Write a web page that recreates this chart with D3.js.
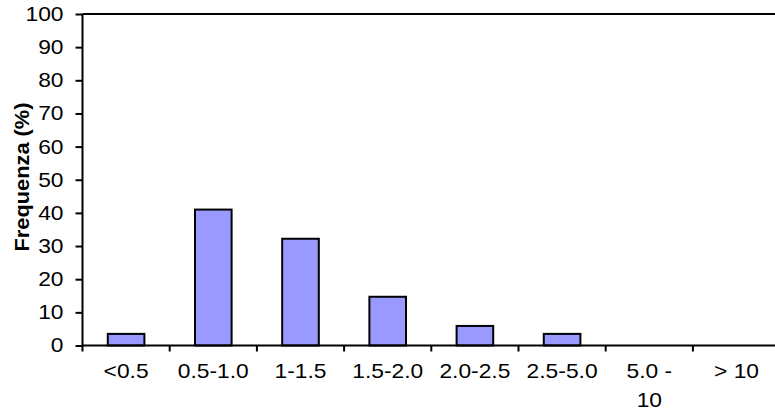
<!DOCTYPE html>
<html><head><meta charset="utf-8">
<script src="https://cdn.jsdelivr.net/npm/d3@7/dist/d3.min.js"></script>
<style>body{margin:0;background:#fff}svg{display:block}text{font-family:"Liberation Sans",Arial,sans-serif}</style>
</head><body><svg id="c" width="775" height="412"></svg>
<script>
const categories = ["<0.5","0.5-1.0","1-1.5","1.5-2.0","2.0-2.5","2.5-5.0","5.0 - 10","> 10"];
const categoryLines = [["<0.5"],["0.5-1.0"],["1-1.5"],["1.5-2.0"],["2.0-2.5"],["2.5-5.0"],["5.0 -","10"],["> 10"]];
const values = [3.5, 41, 32.2, 14.7, 5.9, 3.5, 0, 0];
const yTicks = [0,10,20,30,40,50,60,70,80,90,100];
const yTitle = "Frequenza (%)";

const SX = 1.14; // horizontal text stretch seen in the reference
const svg = d3.select("#c");
const L = 82.5, T = 14, B = 345.5, bandW = 87.2;
const x = d3.scaleBand().domain(categories).range([L, L + bandW*categories.length]).padding(0);
const y = d3.scaleLinear().domain([0,100]).range([B, T]);
const barW = x.bandwidth()*0.42;

// bars
svg.append("g").selectAll("rect").data(values.map((v,i)=>({c:categories[i],v})).filter(d=>d.v>0))
  .join("rect")
  .attr("x", d => x(d.c) + (x.bandwidth()-barW)/2)
  .attr("width", barW)
  .attr("y", d => y(d.v))
  .attr("height", d => y(0)-y(d.v))
  .attr("fill", "#9999ff").attr("stroke", "#000").attr("stroke-width", 2);

// top border
svg.append("line").attr("x1", L).attr("x2", 775).attr("y1", T).attr("y2", T).attr("stroke","#000").attr("stroke-width",2);

// y axis
const ya = svg.append("g").attr("transform", `translate(${L},0)`)
  .call(d3.axisLeft(y).tickValues(yTicks).tickSize(7).tickPadding(12));
ya.select(".domain").attr("stroke","#000").attr("stroke-width",2).attr("d", `M0,${T}V${B}`);
ya.selectAll(".tick line").attr("stroke","#000").attr("stroke-width",2);
ya.selectAll(".tick text").attr("font-size","20px").attr("font-family","Liberation Sans, Arial, sans-serif").attr("fill","#000")
  .attr("x", 0).attr("transform", `translate(-19,0) scale(${SX},1)`);

// x axis
const xa = svg.append("g").attr("transform", `translate(0,${B})`)
  .call(d3.axisBottom(x).tickSize(0).tickFormat(""));
xa.select(".domain").attr("stroke","#000").attr("stroke-width",2).attr("d", `M${L},0H775`);
const bounds = d3.range(categories.length+1).map(i => L + i*x.step());
xa.selectAll("line.bt").data(bounds).join("line").attr("class","bt")
  .attr("x1", d=>d).attr("x2", d=>d).attr("y1",0).attr("y2",6).attr("stroke","#000").attr("stroke-width",2);
// labels
const lab = svg.append("g").selectAll("text").data(categories).join("text")
  .attr("transform", d => `translate(${x(d) + x.bandwidth()/2},378) scale(${SX},1)`)
  .attr("text-anchor","middle").attr("font-size","20px").attr("fill","#000");
lab.each(function(d,i){
  const t = d3.select(this);
  categoryLines[i].forEach((s,j)=>{
    t.append("tspan").attr("x", 0).attr("dy", j===0?0:28.7).text(s);
  });
});

// y title
svg.append("text").attr("transform", `translate(29,177) rotate(-90) scale(1.09,1)`)
  .attr("text-anchor","middle").attr("font-size","20px").attr("font-weight","bold").attr("fill","#000")
  .text(yTitle);
</script></body></html>
